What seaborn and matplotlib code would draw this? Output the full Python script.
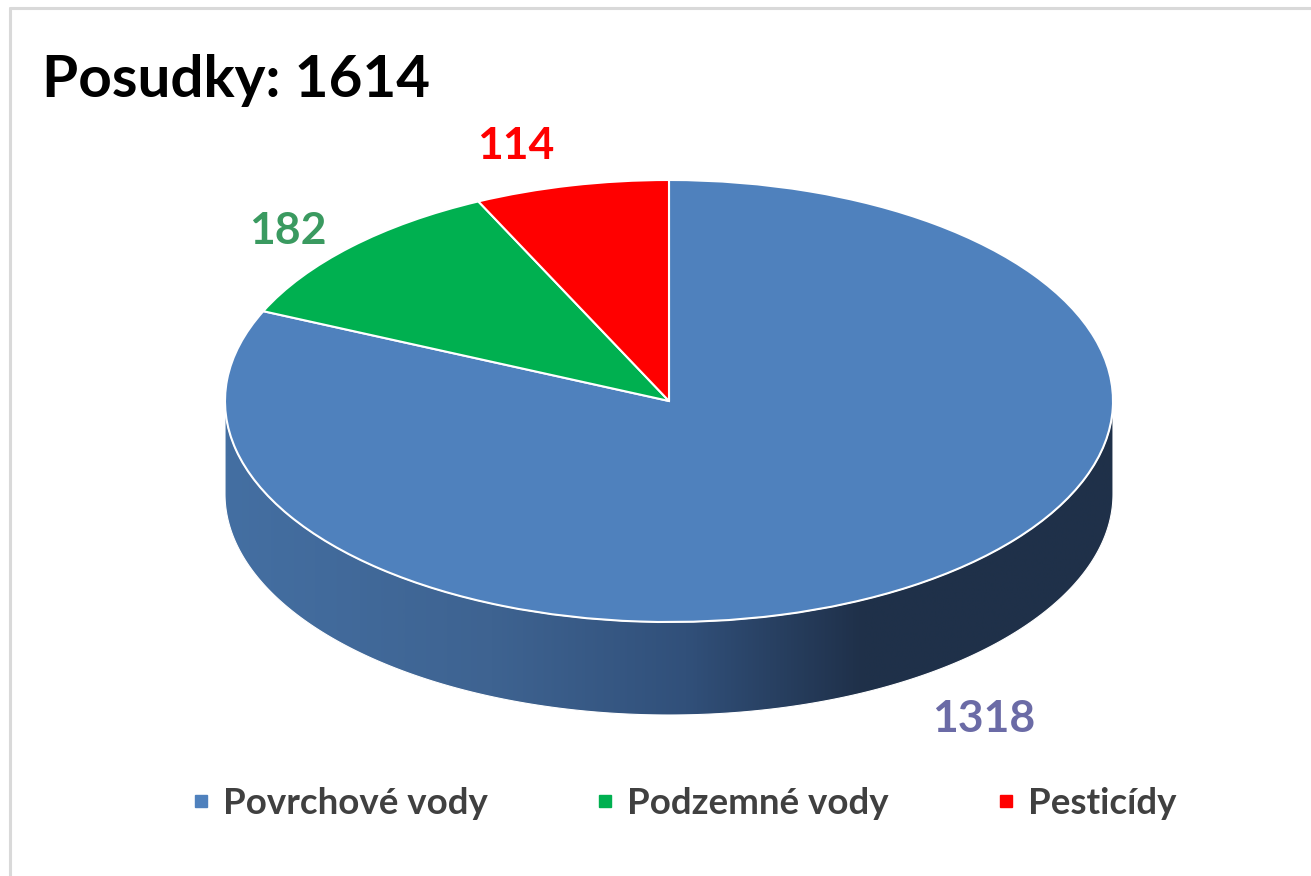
import numpy as np
import matplotlib
matplotlib.use("Agg")
import matplotlib.pyplot as plt
import seaborn as sns
from matplotlib.transforms import Affine2D
from matplotlib.patches import Polygon
from matplotlib.lines import Line2D
from matplotlib.colors import LinearSegmentedColormap

# data
categories = ["Povrchové vody", "Podzemné vody", "Pesticídy"]
values = [1318, 182, 114]
colors = ["#4f81bd", "#00b050", "#ff0000"]
label_colors = ["#6b6ba6", "#3a9a60", "#ff0000"]
title = "Posudky: %d" % sum(values)

sns.set_theme(style="white")
plt.rcParams["font.family"] = ["Lato", "DejaVu Sans"]

W, H = 1311, 876
fig = plt.figure(figsize=(W / 100, H / 100), dpi=100)
ax = fig.add_axes([0, 0, 1, 1])

# pie geometry in pixel units (y up)
cx, cy = 669, H - 401
rx, ry = 444, 221
depth = 93

wedges, _ = ax.pie(values, colors=colors, startangle=90, counterclock=False,
                   center=(cx, cy), radius=rx,
                   wedgeprops=dict(edgecolor="white", linewidth=1.5))
squash = Affine2D().translate(-cx, -cy).scale(1, ry / rx).translate(cx, cy) + ax.transData
for w in wedges:
    w.set_transform(squash)
    w.set_zorder(3)

ax.set_aspect("auto")
ax.axis("off")

# side wall (front half) with horizontal shading
t = np.linspace(np.pi, 2 * np.pi, 300)
top = np.column_stack([cx + rx * np.cos(t), cy + ry * np.sin(t)])
bot = top[::-1] - [0, depth]
side = Polygon(np.vstack([top, bot]), closed=True, facecolor="none",
               edgecolor="white", linewidth=0.8, zorder=2)
ax.add_patch(side)
cmap = LinearSegmentedColormap.from_list(
    "side", [(0, "#446fa2"), (0.3, "#3e6391"), (0.52, "#31507a"),
             (0.72, "#1f3049"), (1, "#1f3149")])
grad = np.linspace(0, 1, 512)[None, :]
img = ax.imshow(grad, cmap=cmap, extent=[cx - rx, cx + rx, cy - ry - depth, cy],
                aspect="auto", zorder=1.5, interpolation="bilinear")
img.set_clip_path(side)
ax.set_xlim(0, W)
ax.set_ylim(0, H)

# value labels along each wedge's middle angle (small nudges like Excel's best fit)
nudge = [(24, -3), (0, -15), (-36, -4)]
for w, v, lc, (nx, ny) in zip(wedges, values, label_colors, nudge):
    mid = np.deg2rad((w.theta1 + w.theta2) / 2)
    lx = cx + 1.2 * rx * np.cos(mid) + nx
    ly = cy + 1.2 * ry * np.sin(mid) + ny
    if np.sin(mid) < 0:
        ly -= depth
    ax.text(lx, ly, str(v), color=lc, fontsize=32, fontweight="bold",
            ha="center", va="center", zorder=4)

# title
fig.text(42 / W, 1 - 97 / H, title, fontsize=42, fontweight="bold",
         color="black", ha="left", va="baseline")

# legend
handles = [Line2D([], [], marker="s", linestyle="none", markersize=9,
                  markerfacecolor=c, markeredgecolor=c) for c in colors]
fig.legend(handles, categories, loc="center", bbox_to_anchor=(0.521, 1 - 803 / H),
           ncol=3, frameon=False, labelcolor="#404040",
           prop=dict(weight="bold", size=26.4), handletextpad=0.3,
           columnspacing=2.9, handlelength=0.6)

# chart frame
fig.add_artist(Line2D([10 / W, 1], [1 - 8 / H, 1 - 8 / H], color="#d9d9d9", lw=2.2))
fig.add_artist(Line2D([10 / W, 10 / W], [0, 1 - 8 / H], color="#d9d9d9", lw=2.2))

fig.savefig("out.png", dpi=100)
